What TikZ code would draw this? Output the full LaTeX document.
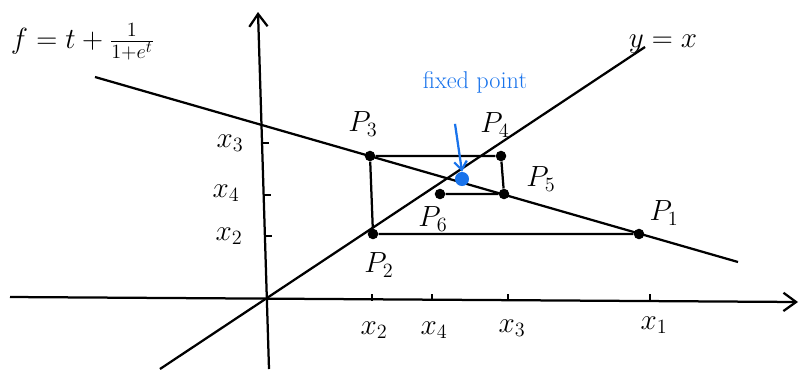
\documentclass[tikz,border=0pt]{standalone}
\usetikzlibrary{arrows.meta}
\definecolor{penblue}{RGB}{25,115,235}
\tikzset{
  pen/.style={line width=1.6pt},
  axis/.style={pen, -{Straight Barb[length=9pt,width=13pt,line width=1.6pt]}},
  dot/.style={circle, fill, inner sep=0pt, minimum size=7.5pt},
  plabel/.style={font=\huge},
  tlabel/.style={font=\huge}
}
\begin{document}
\begin{tikzpicture}[x=0.025cm, y=-0.025cm]
\useasboundingbox (0,0) rectangle (799,369);
% axes
\coordinate (xs) at (10,297);
\coordinate (xe) at (798,302);
\coordinate (ys) at (269,369);
\coordinate (ye) at (258,12);
\draw[axis] (xs) -- (xe);
\draw[axis] (ys) -- (ye);
% y = x and the map line
\coordinate (ds) at (160,369);
\coordinate (de) at (645,47);
\coordinate (ls) at (95,77);
\coordinate (le) at (738,262);
\draw[pen] (ds) -- (de);
\draw[pen] (ls) -- (le);
% points of the iteration
\node[dot] (p1) at (639,234) {};
\node[dot] (p2) at (373,234) {};
\node[dot] (p3) at (370,156) {};
\node[dot] (p4) at (501,156) {};
\node[dot] (p5) at (504,194) {};
\node[dot] (p6) at (440,194) {};
\node[dot, penblue, minimum size=10pt] (fp) at (462,179) {};
\draw[pen] (p1) -- (p2) -- (p3) -- (p4) -- (p5) -- (p6);
% ticks
\foreach \x in {372,432,508,650}
  \draw[pen] (\x,294) -- (\x,300.5);
\foreach \y/\x in {143/262,195/263.6,236/264.9}
  \draw[pen] (\x,\y) -- (\x+7,\y);
% labels
\node[tlabel] (lx2) at (374,330) {$x_2$};
\node[tlabel] (lx4) at (434,330) {$x_4$};
\node[tlabel] (lx3) at (512,328) {$x_3$};
\node[tlabel] (lx1) at (654,325) {$x_1$};
\node[tlabel] (ly3) at (230,143) {$x_3$};
\node[tlabel] (ly4) at (226,193) {$x_4$};
\node[tlabel] (ly2) at (229,236) {$x_2$};
\node[plabel] (l1) at (664,213) {$P_1$};
\node[plabel] (l2) at (379,265) {$P_2$};
\node[plabel] (l3) at (363,124) {$P_3$};
\node[plabel] (l4) at (495,125) {$P_4$};
\node[plabel] (l5) at (541,179) {$P_5$};
\node[plabel] (l6) at (433,219) {$P_6$};
\node[plabel] (eq) at (663,44) {$y=x$};
\node[plabel, anchor=west] (f) at (6,42) {$f=t+\frac{1}{1+e^t}$};
\node[tlabel, penblue, font=\LARGE] (fix) at (475,82) {fixed point};
\draw[pen, penblue, -{Straight Barb[length=6pt,width=9pt]}] (fix.south) ++(-20,26) -- (fp.north);
\end{tikzpicture}
\end{document}
